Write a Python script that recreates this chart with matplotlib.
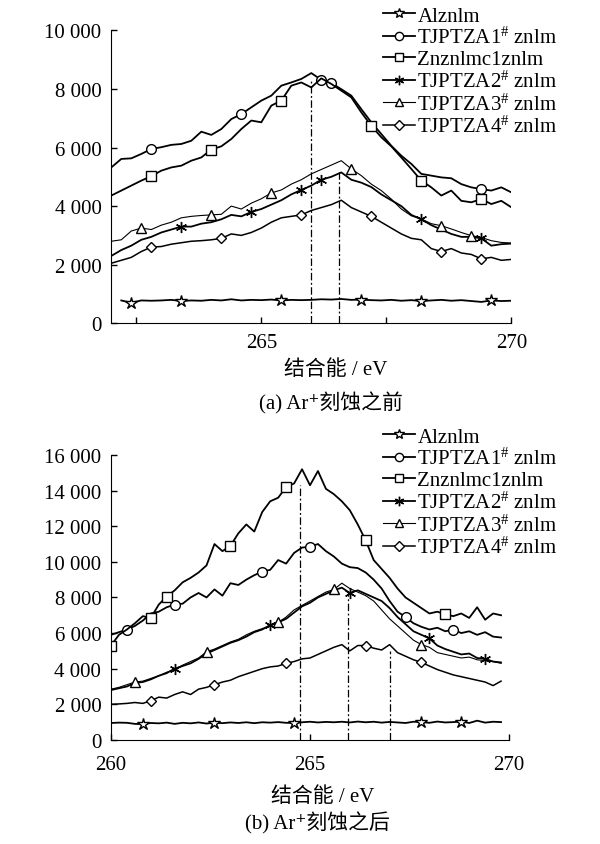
import numpy as np
import matplotlib
matplotlib.use("Agg")
import matplotlib.pyplot as plt
from matplotlib.ticker import FuncFormatter

plt.rcParams['font.family'] = ['Liberation Serif', 'Noto Sans CJK SC', 'DejaVu Sans']
plt.rcParams['mathtext.default'] = 'regular'

# ---- data: (a) before Ar+ etching, 0.2 eV step 262.0 .. 270.0 ----
x_a = np.round(np.arange(262.0, 270.01, 0.2), 1)

al_a = [np.nan, 780, 700, 780, 770, 780, 800, 760, 780, 770, 800, 780, 820, 780, 800,
        790, 810, 780, 800, 790, 800, 820, 810, 830, 800, 810, 790, 780, 800, 770,
        790, 760, 780, 800, 770, 790, 760, 730, 780, 760, 770]
t1_a = [5320, 5610, 5630, 5780, 5950, 6010, 6090, 6120, 6230, 6540, 6430, 6630, 6970,
        7140, 7370, 7600, 7770, 8110, 8220, 8340, 8540, 8310, 8200, 7990, 7770, 7310,
        6860, 6460, 6060, 5720, 5440, 5100, 5040, 4980, 4950, 4750, 4640, 4580, 4530,
        4640, 4470]
zn_a = [4360, 4530, 4700, 4870, 5020, 5210, 5320, 5380, 5550, 5660, 5930, 6040, 6290,
        6630, 6920, 6860, 7430, 7600, 8110, 8220, 8050, 8360, 8170, 7940, 7710, 7200,
        6740, 6350, 6040, 5660, 5270, 4870, 4640, 4360, 4530, 4180, 4130, 4240, 4070,
        4180, 3960]
t2_a = [2300, 2500, 2650, 2850, 2950, 3100, 3200, 3300, 3300, 3400, 3450, 3550, 3700,
        3650, 3800, 3900, 4050, 4200, 4400, 4550, 4700, 4900, 5000, 5150, 4900, 4800,
        4650, 4400, 4200, 4000, 3700, 3550, 3350, 3200, 3050, 2950, 2950, 2900, 2650,
        2700, 2720]
t3_a = [2800, 2850, 3150, 3250, 3200, 3350, 3450, 3600, 3650, 3680, 3700, 3720, 4000,
        3900, 4100, 4250, 4450, 4550, 4750, 4900, 5100, 5250, 5400, 5550, 5270, 5040,
        4750, 4530, 4240, 3900, 3670, 3560, 3400, 3330, 3220, 3100, 2990, 2930, 2820,
        2760, 2740]
t4_a = [2050, 2150, 2250, 2450, 2600, 2620, 2700, 2750, 2800, 2820, 2850, 2900, 3050,
        3000, 3100, 3250, 3450, 3600, 3650, 3700, 3850, 3950, 4050, 4200, 3950, 3800,
        3650, 3450, 3250, 3050, 2900, 2850, 2550, 2450, 2550, 2400, 2350, 2200, 2250,
        2150, 2180]

marks_a = {
    'al': [2, 7, 17, 25, 31, 38],
    't1': [4, 13, 21, 22, 37],
    'zn': [4, 10, 17, 26, 31, 37],
    't2': [7, 14, 19, 21, 31, 37],
    't3': [3, 10, 16, 24, 33, 36],
    't4': [4, 11, 19, 26, 33, 37],
}
peak_x_a = [266.0, 266.56]
peak_y_a = [8350, 5150]

# ---- data: (b) after Ar+ etching, 0.2 eV step 260.0 .. 269.8 ----
x_b = np.round(np.arange(260.0, 269.81, 0.2), 1)

al_b = [950, 970, 960, 900, 880, 950, 930, 970, 900, 960, 930, 980, 920, 970, 940,
        980, 950, 990, 940, 990, 970, 1000, 960, 950, 990, 1020, 980, 1010, 990, 1020,
        980, 1030, 990, 1020, 970, 1010, 980, 950, 1020, 1000, 960, 1030, 980, 1000,
        1030, 950, 1080, 970, 1020, 1000]
t1_b = [5900, 6050, 6200, 6400, 6700, 7100, 7200, 7450, 7600, 7650, 8000, 8250, 8000,
        8450, 8100, 8800, 8700, 9000, 9250, 9450, 9550, 10100, 9900, 10500, 10800,
        10850, 11000, 10600, 10300, 9900, 9700, 9650, 9400, 9000, 8500, 7800, 7200,
        6900, 6550, 6350, 6200, 6300, 6100, 6200, 6000, 6100, 5900, 6050, 5800, 5750]
zn_b = [5300, 5900, 6200, 6550, 6950, 6850, 7600, 8050, 8400, 8850, 9100, 9400, 9800,
        11000, 10600, 10900, 11600, 12100, 11700, 12800, 13400, 13600, 14200, 14400,
        15200, 14300, 15100, 14100, 13800, 13400, 12900, 12100, 11200, 10100, 9600,
        9100, 8500, 8000, 7700, 7400, 7100, 7200, 7050, 6950, 7100, 6850, 7450, 6750,
        7100, 7000]
t2_b = [2800, 2900, 3000, 3200, 3250, 3400, 3600, 3750, 4000, 4150, 4300, 4550, 4850,
        5050, 5250, 5450, 5600, 5800, 6050, 6200, 6450, 6600, 6800, 7150, 7500, 7700,
        8000, 8200, 8400, 8550, 8250, 8400, 8200, 8000, 7800, 7400, 6900, 6500, 6100,
        5900, 5700, 5300, 5100, 4950, 4800, 4850, 4600, 4550, 4400, 4350]
t3_b = [2850, 2950, 3100, 3250, 3300, 3450, 3600, 3800, 3950, 4200, 4400, 4600, 4950,
        5100, 5300, 5500, 5650, 5900, 6100, 6250, 6400, 6600, 6900, 7300, 7550, 7800,
        8050, 8300, 8450, 8800, 8500, 8300, 8100, 7800, 7300, 6800, 6400, 6000, 5600,
        5350, 5200, 4900, 4800, 4700, 4600, 4650, 4500, 4450, 4400, 4300]
t4_b = [2000, 2020, 2050, 2100, 2050, 2200, 2400, 2350, 2550, 2700, 2550, 2850, 2950,
        3100, 3250, 3350, 3550, 3700, 3850, 4000, 4100, 4150, 4300, 4400, 4550, 4600,
        4800, 5000, 5200, 5350, 5000, 5300, 5300, 5150, 5050, 5350, 4900, 4700, 4500,
        4350, 4150, 3950, 3800, 3650, 3550, 3450, 3350, 3250, 3050, 3300]

marks_b = {
    'al': [4, 13, 23, 39, 44],
    't1': [2, 8, 19, 25, 37, 43],
    'zn': [0, 5, 7, 15, 22, 32, 42],
    't2': [8, 20, 30, 40, 47],
    't3': [3, 12, 21, 28, 39],
    't4': [5, 13, 22, 32, 39],
}
peak_x_b = [264.75, 265.95, 267.0]
peak_y_b = [14300, 8300, 5000]

labels = ['Alznlm', r'TJPTZA1$^{\#}$ znlm', 'Znznlmc1znlm',
          r'TJPTZA2$^{\#}$ znlm', r'TJPTZA3$^{\#}$ znlm', r'TJPTZA4$^{\#}$ znlm']

styles = [
    dict(marker='*', ms=9, lw=1.3),
    dict(marker='o', ms=7, lw=1.3),
    dict(marker='s', ms=7, lw=1.3),
    dict(marker=(6, 2, 0), ms=8, lw=1.3),
    dict(marker='^', ms=7, lw=0.8),
    dict(marker='D', ms=5.5, lw=1.1),
]


def sep_fmt(v, pos):
    return f'{v:,.0f}'.replace(',', ' ')


def draw(ax, x, series, marks, peak_x, peak_y, ylim, ystep, xlim, xticks, xticklabels, xpad):
    keys = ['al', 't1', 'zn', 't2', 't3', 't4']
    for key, y, lab, st in zip(keys, series, labels, styles):
        mfc = 'black' if key == 't2' else 'white'
        ax.plot(x, y, color='black', lw=st['lw'], marker=st['marker'], ms=st['ms'],
                mfc=mfc, mec='black', mew=1.0, markevery=marks[key], label=lab)
    ax.vlines(peak_x, 0, peak_y, colors='black', linestyles=(0, (6, 2, 1.5, 2)), lw=0.9)
    ax.set_xlim(*xlim)
    ax.set_ylim(*ylim)
    ax.set_xticks(xticks)
    ax.set_xticklabels(xticklabels)
    ax.set_yticks(np.arange(ylim[0], ylim[1] + 1, ystep))
    ax.yaxis.set_major_formatter(FuncFormatter(sep_fmt))
    ax.spines['top'].set_visible(False)
    ax.spines['right'].set_visible(False)
    ax.tick_params(direction='in', length=4, labelsize=15, width=1)
    ax.tick_params(axis='x', pad=xpad)
    ax.tick_params(axis='y', pad=7)


fig = plt.figure(figsize=(6, 8.45), dpi=100)
W, H = 600, 845

ax_a = fig.add_axes([111.3 / W, 1 - 324.3 / H, 400 / W, (324.3 - 31.3) / H])
draw(ax_a, x_a, [al_a, t1_a, zn_a, t2_a, t3_a, t4_a], marks_a, peak_x_a, peak_y_a,
     (0, 10000), 2000, (262, 270), [262.5, 265, 267.5, 270], ['', '265', '', '270'], 7)

ax_b = fig.add_axes([111 / W, 1 - 740.9 / H, 398 / W, (740.9 - 456) / H])
draw(ax_b, x_b, [al_b, t1_b, zn_b, t2_b, t3_b, t4_b], marks_b, peak_x_b, peak_y_b,
     (0, 16000), 2000, (260, 270), [260, 265, 270], ['260', '265', '270'], 11)

for ax, ytop in [(ax_a, 7), (ax_b, 428)]:
    ax.legend(loc='upper left', bbox_to_anchor=(383 / W, 1 - ytop / H),
              bbox_transform=fig.transFigure, frameon=False, fontsize=15,
              handlelength=1.55, handletextpad=0.1, labelspacing=0.07,
              borderpad=0, borderaxespad=0, numpoints=1, markerscale=0.85)

fig.text(336 / W, 1 - 370 / H, '结合能 / eV', ha='center', va='center', fontsize=15)
fig.text(331 / W, 1 - 403 / H, '(a) Ar⁺刻蚀之前', ha='center', va='center', fontsize=15)
fig.text(323 / W, 1 - 797 / H, '结合能 / eV', ha='center', va='center', fontsize=15)
fig.text(317 / W, 1 - 823 / H, '(b) Ar⁺刻蚀之后', ha='center', va='center', fontsize=15)

fig.savefig('out.png', dpi=100)
